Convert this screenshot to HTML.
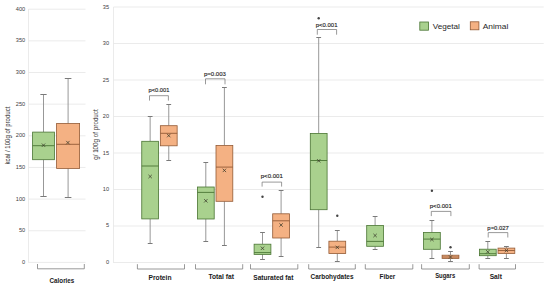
<!DOCTYPE html>
<html><head><meta charset="utf-8"><style>
html,body{margin:0;padding:0;background:#fff;width:550px;height:286px;overflow:hidden}
svg{display:block;font-family:"Liberation Sans", sans-serif}
</style></head><body>
<svg width="550" height="286" viewBox="0 0 550 286">
<rect width="550" height="286" fill="#fff"/>
<line x1="28.50" y1="262.40" x2="85.50" y2="262.40" stroke="#e6e6e6" stroke-width="0.8"/>
<text x="25.20" y="263.80" font-size="5.6" text-anchor="end" font-weight="normal" fill="#404040" >0</text>
<line x1="28.50" y1="230.75" x2="85.50" y2="230.75" stroke="#e6e6e6" stroke-width="0.8"/>
<text x="25.20" y="232.15" font-size="5.6" text-anchor="end" font-weight="normal" fill="#404040" >50</text>
<line x1="28.50" y1="199.10" x2="85.50" y2="199.10" stroke="#e6e6e6" stroke-width="0.8"/>
<text x="25.20" y="200.50" font-size="5.6" text-anchor="end" font-weight="normal" fill="#404040" >100</text>
<line x1="28.50" y1="167.45" x2="85.50" y2="167.45" stroke="#e6e6e6" stroke-width="0.8"/>
<text x="25.20" y="168.85" font-size="5.6" text-anchor="end" font-weight="normal" fill="#404040" >150</text>
<line x1="28.50" y1="135.80" x2="85.50" y2="135.80" stroke="#e6e6e6" stroke-width="0.8"/>
<text x="25.20" y="137.20" font-size="5.6" text-anchor="end" font-weight="normal" fill="#404040" >200</text>
<line x1="28.50" y1="104.15" x2="85.50" y2="104.15" stroke="#e6e6e6" stroke-width="0.8"/>
<text x="25.20" y="105.55" font-size="5.6" text-anchor="end" font-weight="normal" fill="#404040" >250</text>
<line x1="28.50" y1="72.50" x2="85.50" y2="72.50" stroke="#e6e6e6" stroke-width="0.8"/>
<text x="25.20" y="73.90" font-size="5.6" text-anchor="end" font-weight="normal" fill="#404040" >300</text>
<line x1="28.50" y1="40.85" x2="85.50" y2="40.85" stroke="#e6e6e6" stroke-width="0.8"/>
<text x="25.20" y="42.25" font-size="5.6" text-anchor="end" font-weight="normal" fill="#404040" >350</text>
<line x1="28.50" y1="9.20" x2="85.50" y2="9.20" stroke="#e6e6e6" stroke-width="0.8"/>
<text x="25.20" y="10.60" font-size="5.6" text-anchor="end" font-weight="normal" fill="#404040" >400</text>
<line x1="28.50" y1="9.00" x2="28.50" y2="262.80" stroke="#e6e6e6" stroke-width="0.8"/>
<text x="0.00" y="0.00" font-size="6.4" text-anchor="middle" font-weight="normal" fill="#333" transform="translate(10.2,135.6) rotate(-90)" textLength="57.90" lengthAdjust="spacingAndGlyphs">kcal / 100g of product</text>
<line x1="43.50" y1="94.70" x2="43.50" y2="132.10" stroke="#8c8c8c" stroke-width="0.9"/>
<line x1="43.50" y1="159.70" x2="43.50" y2="196.10" stroke="#8c8c8c" stroke-width="0.9"/>
<line x1="40.35" y1="94.50" x2="46.65" y2="94.50" stroke="#7a7a7a" stroke-width="1.0"/>
<line x1="40.35" y1="196.50" x2="46.65" y2="196.50" stroke="#7a7a7a" stroke-width="1.0"/>
<rect x="32.60" y="132.1" width="21.80" height="27.60" fill="#a9d18e" stroke="#4a7534" stroke-width="0.8"/>
<line x1="32.60" y1="145.70" x2="54.40" y2="145.70" stroke="#4a7534" stroke-width="0.9"/>
<path d="M41.80,143.50L45.20,146.90M45.20,143.50L41.80,146.90" stroke="#3a3a2a" stroke-width="0.75" fill="none"/>
<line x1="68.10" y1="78.80" x2="68.10" y2="123.50" stroke="#8c8c8c" stroke-width="0.9"/>
<line x1="68.10" y1="168.40" x2="68.10" y2="197.50" stroke="#8c8c8c" stroke-width="0.9"/>
<line x1="64.80" y1="78.50" x2="71.40" y2="78.50" stroke="#7a7a7a" stroke-width="1.0"/>
<line x1="64.80" y1="197.50" x2="71.40" y2="197.50" stroke="#7a7a7a" stroke-width="1.0"/>
<rect x="56.60" y="123.5" width="23.00" height="44.90" fill="#f4b183" stroke="#935a35" stroke-width="0.8"/>
<line x1="56.60" y1="144.30" x2="79.60" y2="144.30" stroke="#935a35" stroke-width="0.9"/>
<path d="M66.20,140.90L69.60,144.30M69.60,140.90L66.20,144.30" stroke="#3a3a2a" stroke-width="0.75" fill="none"/>
<path d="M37.5,264.0L37.5,268.8L84.3,268.8L84.3,264.0" stroke="#7f7f7f" stroke-width="0.8" fill="none"/>
<text x="61.95" y="282.70" font-size="6.6" text-anchor="middle" font-weight="bold" fill="#1a1a1a"  textLength="24.70" lengthAdjust="spacingAndGlyphs">Calories</text>
<line x1="113.50" y1="262.50" x2="543.70" y2="262.50" stroke="#e6e6e6" stroke-width="0.8"/>
<text x="109.00" y="263.90" font-size="5.6" text-anchor="end" font-weight="normal" fill="#404040" >0</text>
<line x1="113.50" y1="226.00" x2="543.70" y2="226.00" stroke="#e6e6e6" stroke-width="0.8"/>
<text x="109.00" y="227.49" font-size="5.6" text-anchor="end" font-weight="normal" fill="#404040" >5</text>
<line x1="113.50" y1="189.50" x2="543.70" y2="189.50" stroke="#e6e6e6" stroke-width="0.8"/>
<text x="109.00" y="191.07" font-size="5.6" text-anchor="end" font-weight="normal" fill="#404040" >10</text>
<line x1="113.50" y1="153.00" x2="543.70" y2="153.00" stroke="#e6e6e6" stroke-width="0.8"/>
<text x="109.00" y="154.66" font-size="5.6" text-anchor="end" font-weight="normal" fill="#404040" >15</text>
<line x1="113.50" y1="116.50" x2="543.70" y2="116.50" stroke="#e6e6e6" stroke-width="0.8"/>
<text x="109.00" y="118.24" font-size="5.6" text-anchor="end" font-weight="normal" fill="#404040" >20</text>
<line x1="113.50" y1="80.00" x2="543.70" y2="80.00" stroke="#e6e6e6" stroke-width="0.8"/>
<text x="109.00" y="81.83" font-size="5.6" text-anchor="end" font-weight="normal" fill="#404040" >25</text>
<line x1="113.50" y1="43.50" x2="543.70" y2="43.50" stroke="#e6e6e6" stroke-width="0.8"/>
<text x="109.00" y="45.41" font-size="5.6" text-anchor="end" font-weight="normal" fill="#404040" >30</text>
<line x1="113.50" y1="7.00" x2="543.70" y2="7.00" stroke="#e6e6e6" stroke-width="0.8"/>
<text x="109.00" y="9.00" font-size="5.6" text-anchor="end" font-weight="normal" fill="#404040" >35</text>
<line x1="113.50" y1="7.00" x2="113.50" y2="262.90" stroke="#e6e6e6" stroke-width="0.8"/>
<text x="0.00" y="0.00" font-size="6.5" text-anchor="middle" font-weight="normal" fill="#333" transform="translate(97.6,134.55) rotate(-90)" textLength="50.60" lengthAdjust="spacingAndGlyphs">g/ 100g of product</text>
<line x1="150.15" y1="116.50" x2="150.15" y2="141.30" stroke="#8c8c8c" stroke-width="0.9"/>
<line x1="150.15" y1="218.90" x2="150.15" y2="243.30" stroke="#8c8c8c" stroke-width="0.9"/>
<line x1="147.75" y1="116.50" x2="152.55" y2="116.50" stroke="#7a7a7a" stroke-width="1.0"/>
<line x1="147.75" y1="243.50" x2="152.55" y2="243.50" stroke="#7a7a7a" stroke-width="1.0"/>
<rect x="141.75" y="141.3" width="16.80" height="77.60" fill="#a9d18e" stroke="#4a7534" stroke-width="0.8"/>
<line x1="141.75" y1="166.00" x2="158.55" y2="166.00" stroke="#4a7534" stroke-width="0.9"/>
<path d="M148.45,174.80L151.85,178.20M151.85,174.80L148.45,178.20" stroke="#3a3a2a" stroke-width="0.75" fill="none"/>
<line x1="168.75" y1="104.40" x2="168.75" y2="125.70" stroke="#8c8c8c" stroke-width="0.9"/>
<line x1="168.75" y1="145.80" x2="168.75" y2="160.10" stroke="#8c8c8c" stroke-width="0.9"/>
<line x1="166.35" y1="104.50" x2="171.15" y2="104.50" stroke="#7a7a7a" stroke-width="1.0"/>
<line x1="166.35" y1="160.50" x2="171.15" y2="160.50" stroke="#7a7a7a" stroke-width="1.0"/>
<rect x="160.35" y="125.7" width="16.80" height="20.10" fill="#f4b183" stroke="#935a35" stroke-width="0.8"/>
<line x1="160.35" y1="133.30" x2="177.15" y2="133.30" stroke="#935a35" stroke-width="0.9"/>
<path d="M167.05,133.90L170.45,137.30M170.45,133.90L167.05,137.30" stroke="#3a3a2a" stroke-width="0.75" fill="none"/>
<line x1="205.80" y1="162.10" x2="205.80" y2="187.00" stroke="#8c8c8c" stroke-width="0.9"/>
<line x1="205.80" y1="219.00" x2="205.80" y2="241.20" stroke="#8c8c8c" stroke-width="0.9"/>
<line x1="203.40" y1="162.50" x2="208.20" y2="162.50" stroke="#7a7a7a" stroke-width="1.0"/>
<line x1="203.40" y1="241.50" x2="208.20" y2="241.50" stroke="#7a7a7a" stroke-width="1.0"/>
<rect x="197.40" y="187.0" width="16.80" height="32.00" fill="#a9d18e" stroke="#4a7534" stroke-width="0.8"/>
<line x1="197.40" y1="192.40" x2="214.20" y2="192.40" stroke="#4a7534" stroke-width="0.9"/>
<path d="M204.10,199.10L207.50,202.50M207.50,199.10L204.10,202.50" stroke="#3a3a2a" stroke-width="0.75" fill="none"/>
<line x1="224.40" y1="87.30" x2="224.40" y2="145.50" stroke="#8c8c8c" stroke-width="0.9"/>
<line x1="224.40" y1="201.30" x2="224.40" y2="245.80" stroke="#8c8c8c" stroke-width="0.9"/>
<line x1="222.00" y1="87.50" x2="226.80" y2="87.50" stroke="#7a7a7a" stroke-width="1.0"/>
<line x1="222.00" y1="245.50" x2="226.80" y2="245.50" stroke="#7a7a7a" stroke-width="1.0"/>
<rect x="216.00" y="145.5" width="16.80" height="55.80" fill="#f4b183" stroke="#935a35" stroke-width="0.8"/>
<line x1="216.00" y1="167.10" x2="232.80" y2="167.10" stroke="#935a35" stroke-width="0.9"/>
<path d="M222.70,168.70L226.10,172.10M226.10,168.70L222.70,172.10" stroke="#3a3a2a" stroke-width="0.75" fill="none"/>
<line x1="262.50" y1="232.70" x2="262.50" y2="244.20" stroke="#8c8c8c" stroke-width="0.9"/>
<line x1="262.50" y1="254.40" x2="262.50" y2="259.40" stroke="#8c8c8c" stroke-width="0.9"/>
<line x1="260.10" y1="232.50" x2="264.90" y2="232.50" stroke="#7a7a7a" stroke-width="1.0"/>
<line x1="260.10" y1="259.50" x2="264.90" y2="259.50" stroke="#7a7a7a" stroke-width="1.0"/>
<rect x="254.10" y="244.2" width="16.80" height="10.20" fill="#a9d18e" stroke="#4a7534" stroke-width="0.8"/>
<line x1="254.10" y1="252.60" x2="270.90" y2="252.60" stroke="#4a7534" stroke-width="0.9"/>
<path d="M260.80,246.60L264.20,250.00M264.20,246.60L260.80,250.00" stroke="#3a3a2a" stroke-width="0.75" fill="none"/>
<circle cx="262.50" cy="196.80" r="1.2" fill="#444"/>
<line x1="281.10" y1="190.00" x2="281.10" y2="213.80" stroke="#8c8c8c" stroke-width="0.9"/>
<line x1="281.10" y1="238.00" x2="281.10" y2="256.90" stroke="#8c8c8c" stroke-width="0.9"/>
<line x1="278.70" y1="190.50" x2="283.50" y2="190.50" stroke="#7a7a7a" stroke-width="1.0"/>
<line x1="278.70" y1="256.50" x2="283.50" y2="256.50" stroke="#7a7a7a" stroke-width="1.0"/>
<rect x="272.70" y="213.8" width="16.80" height="24.20" fill="#f4b183" stroke="#935a35" stroke-width="0.8"/>
<line x1="272.70" y1="220.80" x2="289.50" y2="220.80" stroke="#935a35" stroke-width="0.9"/>
<path d="M279.40,223.30L282.80,226.70M282.80,223.30L279.40,226.70" stroke="#3a3a2a" stroke-width="0.75" fill="none"/>
<line x1="318.70" y1="37.20" x2="318.70" y2="133.40" stroke="#8c8c8c" stroke-width="0.9"/>
<line x1="318.70" y1="209.70" x2="318.70" y2="247.20" stroke="#8c8c8c" stroke-width="0.9"/>
<line x1="316.30" y1="37.50" x2="321.10" y2="37.50" stroke="#7a7a7a" stroke-width="1.0"/>
<line x1="316.30" y1="247.50" x2="321.10" y2="247.50" stroke="#7a7a7a" stroke-width="1.0"/>
<rect x="310.30" y="133.4" width="16.80" height="76.30" fill="#a9d18e" stroke="#4a7534" stroke-width="0.8"/>
<line x1="310.30" y1="160.50" x2="327.10" y2="160.50" stroke="#4a7534" stroke-width="0.9"/>
<path d="M317.00,159.10L320.40,162.50M320.40,159.10L317.00,162.50" stroke="#3a3a2a" stroke-width="0.75" fill="none"/>
<circle cx="318.70" cy="18.20" r="1.2" fill="#444"/>
<line x1="337.30" y1="230.60" x2="337.30" y2="241.20" stroke="#8c8c8c" stroke-width="0.9"/>
<line x1="337.30" y1="253.60" x2="337.30" y2="261.20" stroke="#8c8c8c" stroke-width="0.9"/>
<line x1="334.90" y1="230.50" x2="339.70" y2="230.50" stroke="#7a7a7a" stroke-width="1.0"/>
<line x1="334.90" y1="261.50" x2="339.70" y2="261.50" stroke="#7a7a7a" stroke-width="1.0"/>
<rect x="328.90" y="241.2" width="16.80" height="12.40" fill="#f4b183" stroke="#935a35" stroke-width="0.8"/>
<line x1="328.90" y1="247.10" x2="345.70" y2="247.10" stroke="#935a35" stroke-width="0.9"/>
<path d="M335.60,245.70L339.00,249.10M339.00,245.70L335.60,249.10" stroke="#3a3a2a" stroke-width="0.75" fill="none"/>
<circle cx="337.30" cy="215.70" r="1.2" fill="#444"/>
<line x1="375.10" y1="216.20" x2="375.10" y2="225.50" stroke="#8c8c8c" stroke-width="0.9"/>
<line x1="375.10" y1="246.30" x2="375.10" y2="249.20" stroke="#8c8c8c" stroke-width="0.9"/>
<line x1="372.70" y1="216.50" x2="377.50" y2="216.50" stroke="#7a7a7a" stroke-width="1.0"/>
<line x1="372.70" y1="249.50" x2="377.50" y2="249.50" stroke="#7a7a7a" stroke-width="1.0"/>
<rect x="366.70" y="225.5" width="16.80" height="20.80" fill="#a9d18e" stroke="#4a7534" stroke-width="0.8"/>
<line x1="366.70" y1="241.40" x2="383.50" y2="241.40" stroke="#4a7534" stroke-width="0.9"/>
<path d="M373.40,233.80L376.80,237.20M376.80,233.80L373.40,237.20" stroke="#3a3a2a" stroke-width="0.75" fill="none"/>
<line x1="431.90" y1="220.20" x2="431.90" y2="232.50" stroke="#8c8c8c" stroke-width="0.9"/>
<line x1="431.90" y1="249.30" x2="431.90" y2="258.00" stroke="#8c8c8c" stroke-width="0.9"/>
<line x1="429.50" y1="220.50" x2="434.30" y2="220.50" stroke="#7a7a7a" stroke-width="1.0"/>
<line x1="429.50" y1="258.50" x2="434.30" y2="258.50" stroke="#7a7a7a" stroke-width="1.0"/>
<rect x="423.50" y="232.5" width="16.80" height="16.80" fill="#a9d18e" stroke="#4a7534" stroke-width="0.8"/>
<line x1="423.50" y1="239.10" x2="440.30" y2="239.10" stroke="#4a7534" stroke-width="0.9"/>
<path d="M430.20,237.80L433.60,241.20M433.60,237.80L430.20,241.20" stroke="#3a3a2a" stroke-width="0.75" fill="none"/>
<circle cx="431.90" cy="190.70" r="1.2" fill="#444"/>
<line x1="450.50" y1="251.70" x2="450.50" y2="255.20" stroke="#8c8c8c" stroke-width="0.9"/>
<line x1="450.50" y1="258.40" x2="450.50" y2="261.90" stroke="#8c8c8c" stroke-width="0.9"/>
<line x1="448.10" y1="251.50" x2="452.90" y2="251.50" stroke="#7a7a7a" stroke-width="1.0"/>
<line x1="448.10" y1="261.50" x2="452.90" y2="261.50" stroke="#7a7a7a" stroke-width="1.0"/>
<rect x="442.10" y="255.2" width="16.80" height="3.20" fill="#f4b183" stroke="#935a35" stroke-width="0.8"/>
<line x1="442.10" y1="257.00" x2="458.90" y2="257.00" stroke="#935a35" stroke-width="0.9"/>
<path d="M448.80,255.30L452.20,258.70M452.20,255.30L448.80,258.70" stroke="#3a3a2a" stroke-width="0.75" fill="none"/>
<circle cx="450.50" cy="247.30" r="1.2" fill="#444"/>
<line x1="487.80" y1="241.50" x2="487.80" y2="249.20" stroke="#8c8c8c" stroke-width="0.9"/>
<line x1="487.80" y1="255.70" x2="487.80" y2="258.30" stroke="#8c8c8c" stroke-width="0.9"/>
<line x1="485.40" y1="241.50" x2="490.20" y2="241.50" stroke="#7a7a7a" stroke-width="1.0"/>
<line x1="485.40" y1="258.50" x2="490.20" y2="258.50" stroke="#7a7a7a" stroke-width="1.0"/>
<rect x="479.40" y="249.2" width="16.80" height="6.50" fill="#a9d18e" stroke="#4a7534" stroke-width="0.8"/>
<line x1="479.40" y1="253.70" x2="496.20" y2="253.70" stroke="#4a7534" stroke-width="0.9"/>
<path d="M486.10,250.10L489.50,253.50M489.50,250.10L486.10,253.50" stroke="#3a3a2a" stroke-width="0.75" fill="none"/>
<line x1="506.40" y1="246.00" x2="506.40" y2="248.10" stroke="#8c8c8c" stroke-width="0.9"/>
<line x1="506.40" y1="253.40" x2="506.40" y2="258.30" stroke="#8c8c8c" stroke-width="0.9"/>
<line x1="504.00" y1="246.50" x2="508.80" y2="246.50" stroke="#7a7a7a" stroke-width="1.0"/>
<line x1="504.00" y1="258.50" x2="508.80" y2="258.50" stroke="#7a7a7a" stroke-width="1.0"/>
<rect x="498.00" y="248.1" width="16.80" height="5.30" fill="#f4b183" stroke="#935a35" stroke-width="0.8"/>
<line x1="498.00" y1="250.50" x2="514.80" y2="250.50" stroke="#935a35" stroke-width="0.9"/>
<path d="M504.70,248.80L508.10,252.20M508.10,248.80L504.70,252.20" stroke="#3a3a2a" stroke-width="0.75" fill="none"/>
<path d="M149.50,100.6L149.50,95.7L168.40,95.7L168.40,100.6" stroke="#6e6e6e" stroke-width="0.7" fill="none"/>
<text x="159.00" y="92.30" font-size="6.2" text-anchor="middle" font-weight="normal" fill="#262626" stroke="#262626" stroke-width="0.15" textLength="20.90" lengthAdjust="spacingAndGlyphs">p&lt;0.001</text>
<path d="M205.50,84.3L205.50,78.8L225.00,78.8L225.00,84.3" stroke="#6e6e6e" stroke-width="0.7" fill="none"/>
<text x="214.90" y="75.70" font-size="6.2" text-anchor="middle" font-weight="normal" fill="#262626" stroke="#262626" stroke-width="0.15" textLength="21.90" lengthAdjust="spacingAndGlyphs">p=0.003</text>
<path d="M262.10,186.6L262.10,182.1L281.60,182.1L281.60,186.6" stroke="#6e6e6e" stroke-width="0.7" fill="none"/>
<text x="271.75" y="177.90" font-size="6.2" text-anchor="middle" font-weight="normal" fill="#262626" stroke="#262626" stroke-width="0.15" textLength="22.00" lengthAdjust="spacingAndGlyphs">p&lt;0.001</text>
<path d="M317.30,34.7L317.30,29.5L336.60,29.5L336.60,34.7" stroke="#6e6e6e" stroke-width="0.7" fill="none"/>
<text x="326.60" y="26.90" font-size="6.2" text-anchor="middle" font-weight="normal" fill="#262626" stroke="#262626" stroke-width="0.15" textLength="21.70" lengthAdjust="spacingAndGlyphs">p&lt;0.001</text>
<path d="M431.30,216.1L431.30,211.4L450.90,211.4L450.90,216.1" stroke="#6e6e6e" stroke-width="0.7" fill="none"/>
<text x="440.75" y="207.60" font-size="6.2" text-anchor="middle" font-weight="normal" fill="#262626" stroke="#262626" stroke-width="0.15" textLength="22.00" lengthAdjust="spacingAndGlyphs">p&lt;0.001</text>
<path d="M488.20,237.5L488.20,232.6L507.80,232.6L507.80,237.5" stroke="#6e6e6e" stroke-width="0.7" fill="none"/>
<text x="498.10" y="229.50" font-size="6.2" text-anchor="middle" font-weight="normal" fill="#262626" stroke="#262626" stroke-width="0.15" textLength="21.50" lengthAdjust="spacingAndGlyphs">p=0.027</text>
<path d="M137.4,264.2L137.4,269.0L184.5,269.0L184.5,264.2" stroke="#7f7f7f" stroke-width="0.8" fill="none"/>
<text x="160.00" y="280.00" font-size="6.6" text-anchor="middle" font-weight="bold" fill="#1a1a1a"  textLength="23.00" lengthAdjust="spacingAndGlyphs">Protein</text>
<path d="M195.5,264.2L195.5,269.0L242.7,269.0L242.7,264.2" stroke="#7f7f7f" stroke-width="0.8" fill="none"/>
<text x="221.15" y="278.60" font-size="6.6" text-anchor="middle" font-weight="bold" fill="#1a1a1a"  textLength="25.50" lengthAdjust="spacingAndGlyphs">Total fat</text>
<path d="M250.5,264.2L250.5,269.0L297.8,269.0L297.8,264.2" stroke="#7f7f7f" stroke-width="0.8" fill="none"/>
<text x="273.35" y="279.50" font-size="6.6" text-anchor="middle" font-weight="bold" fill="#1a1a1a"  textLength="40.10" lengthAdjust="spacingAndGlyphs">Saturated fat</text>
<path d="M308.7,264.2L308.7,269.0L355.3,269.0L355.3,264.2" stroke="#7f7f7f" stroke-width="0.8" fill="none"/>
<text x="332.00" y="278.50" font-size="6.6" text-anchor="middle" font-weight="bold" fill="#1a1a1a"  textLength="43.00" lengthAdjust="spacingAndGlyphs">Carbohydates</text>
<path d="M365.3,264.2L365.3,269.0L412.8,269.0L412.8,264.2" stroke="#7f7f7f" stroke-width="0.8" fill="none"/>
<text x="387.45" y="278.60" font-size="6.6" text-anchor="middle" font-weight="bold" fill="#1a1a1a"  textLength="15.70" lengthAdjust="spacingAndGlyphs">Fiber</text>
<path d="M421.6,264.2L421.6,269.0L469.3,269.0L469.3,264.2" stroke="#7f7f7f" stroke-width="0.8" fill="none"/>
<text x="445.20" y="278.40" font-size="6.6" text-anchor="middle" font-weight="bold" fill="#1a1a1a"  textLength="20.00" lengthAdjust="spacingAndGlyphs">Sugars</text>
<path d="M479.1,264.2L479.1,269.0L515.5,269.0L515.5,264.2" stroke="#7f7f7f" stroke-width="0.8" fill="none"/>
<text x="495.80" y="278.70" font-size="6.6" text-anchor="middle" font-weight="bold" fill="#1a1a1a"  textLength="12.20" lengthAdjust="spacingAndGlyphs">Salt</text>
<rect x="419.8" y="22.0" width="8.8" height="8.2" fill="#a9d18e" stroke="#4a7534" stroke-width="0.8"/>
<text x="446.30" y="29.00" font-size="8.0" text-anchor="middle" font-weight="normal" fill="#262626"  textLength="27.20" lengthAdjust="spacingAndGlyphs">Vegetal</text>
<rect x="470.3" y="21.8" width="8.6" height="8.0" fill="#f4b183" stroke="#935a35" stroke-width="0.8"/>
<text x="495.50" y="29.00" font-size="8.0" text-anchor="middle" font-weight="normal" fill="#262626"  textLength="25.60" lengthAdjust="spacingAndGlyphs">Animal</text>
</svg>
</body></html>
